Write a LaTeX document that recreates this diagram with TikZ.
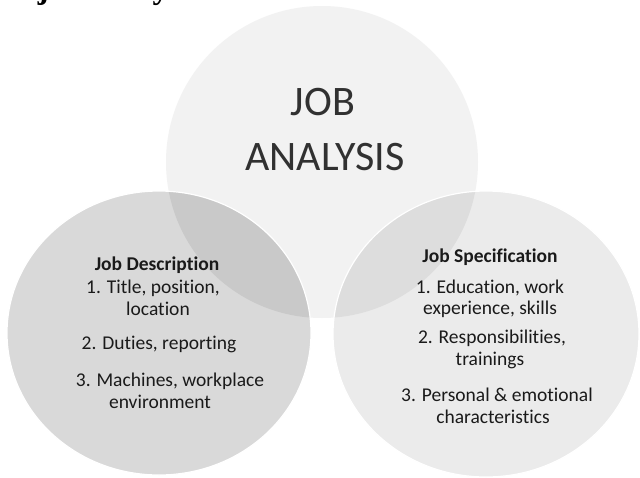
\documentclass[tikz,border=0pt]{standalone}
\usepackage{fontspec}
\setmainfont{Carlito}[Ligatures={NoCommon}]
\newfontfamily\headserif{Liberation Serif}
\definecolor{topgray}{HTML}{F2F2F2}
\definecolor{leftgray}{HTML}{D9D9D9}
\definecolor{leftover}{HTML}{C9C9C9}
\definecolor{rightgray}{HTML}{EBEBEB}
\definecolor{rightover}{HTML}{DDDDDD}
\definecolor{txt}{HTML}{1A1A1A}
\begin{document}
\begin{tikzpicture}[x=1pt,y=-1pt,
  body/.style={anchor=base,inner sep=0pt,text=txt,font=\fontsize{19.5}{22}\selectfont},
  head/.style={body,font=\fontsize{19.5}{22}\selectfont\bfseries},
  big/.style={anchor=base,inner sep=0pt,text=txt!90,font=\fontsize{42}{42}\selectfont},
  rim/.style={draw=white,line width=1.2pt}]
\useasboundingbox (0,0) rectangle (640,477);
\clip (0,0) rectangle (640,477);
\fill[white] (0,0) rectangle (640,477);
% clipped caption line at the top
\node[anchor=base west,inner sep=0pt,font=\headserif\bfseries\fontsize{33}{33}\selectfont] (cap) at (2,-2) {of job analysis};
% circles
\coordinate (ct) at (322,162);
\coordinate (cl) at (159,333);
\coordinate (cr) at (486,334);
\fill[topgray] (ct) circle[radius=156];
\fill[leftgray] (cl) ellipse[x radius=152,y radius=142];
\fill[rightgray] (cr) ellipse[x radius=153,y radius=143];
\begin{scope}
  \clip (cl) ellipse[x radius=152,y radius=142];
  \fill[leftover] (ct) circle[radius=156];
\end{scope}
\begin{scope}
  \clip (cr) ellipse[x radius=153,y radius=143];
  \fill[rightover] (ct) circle[radius=156];
\end{scope}
\draw[rim] (cl) ellipse[x radius=152,y radius=142];
\draw[rim] (cr) ellipse[x radius=153,y radius=143];
% top text
\node[big] (job) at (323,115) {JOB};
\node[big] (ana) at (325,170) {ANALYSIS};
% left block
\node[head] (dh) at (157,270) {Job Description};
\node[body] (d1a) at (153,293) {1. Title, position,};
\node[body] (d1b) at (158,315) {location};
\node[body] (d2) at (159,349) {2. Duties, reporting};
\node[body] (d3a) at (170,386) {3. Machines, workplace};
\node[body] (d3b) at (160,408) {environment};
% right block
\node[head] (sh) at (490,262) {Job Specification};
\node[body] (s1a) at (490,293) {1. Education, work};
\node[body] (s1b) at (490,314) {experience, skills};
\node[body] (s2a) at (492,343) {2. Responsibilities,};
\node[body] (s2b) at (490,365) {trainings};
\node[body] (s3a) at (497,401) {3. Personal \& emotional};
\node[body] (s3b) at (493,423) {characteristics};
\end{tikzpicture}
\end{document}
